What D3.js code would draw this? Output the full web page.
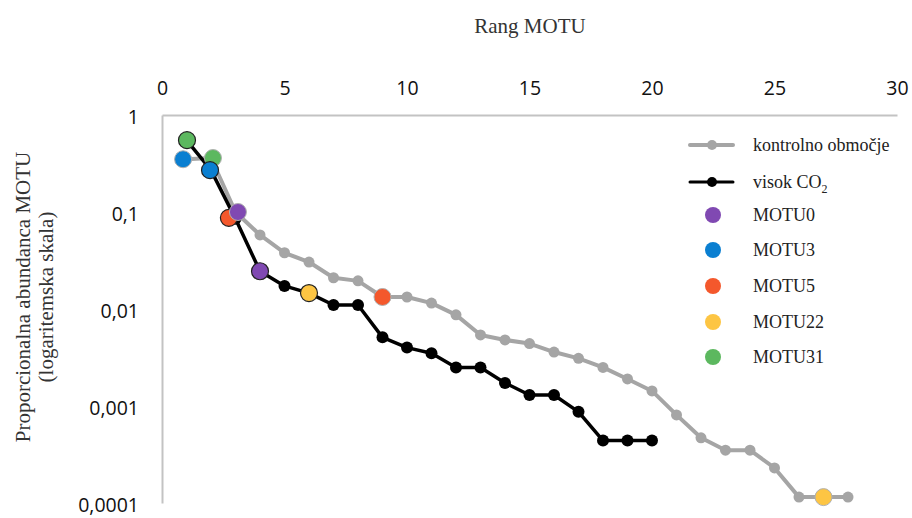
<!DOCTYPE html>
<html>
<head>
<meta charset="utf-8">
<script src="https://cdn.jsdelivr.net/npm/d3@7"></script>
<style>
  html, body { margin: 0; padding: 0; background: #fff; }
  svg { display: block; }
</style>
</head>
<body>
<svg id="chart" width="912" height="518"></svg>
<script>
// ---- DATA ----
const xTicks = [0, 5, 10, 15, 20, 25, 30];
const yTicks = [1, 0.1, 0.01, 0.001, 0.0001];
const yTickLabels = ["1", "0,1", "0,01", "0,001", "0,0001"];

const controlRank = d3.range(1, 29);
const controlValues = [0.35, 0.36, 0.10, 0.058, 0.038, 0.0305, 0.021, 0.0195, 0.0133, 0.0133,
  0.0115, 0.0087, 0.0054, 0.0048, 0.0044, 0.0036, 0.0031, 0.0025, 0.0019, 0.00143,
  0.00081, 0.00047, 0.00035, 0.00035, 0.00023, 0.000115, 0.000115, 0.000115];

const highRank = d3.range(1, 21);
const highValues = [0.55, 0.27, 0.085, 0.0245, 0.0173, 0.0146, 0.011, 0.011, 0.0051, 0.0040,
  0.0035, 0.0025, 0.0025, 0.00173, 0.00130, 0.00130, 0.00087, 0.00044, 0.00044, 0.00044];

const motuNames = ["MOTU0", "MOTU3", "MOTU5", "MOTU22", "MOTU31"];
const motuColors = ["#8049b2", "#0a7fd1", "#f4582c", "#fdc543", "#5cb85f"];
// [rank, value] in control area and in high CO2
const motuControl = [[3.1, 0.10], [0.86, 0.35], [9, 0.0133], [27, 0.000115], [2.08, 0.36]];
const motuHigh = [[4, 0.0245], [1.96, 0.27], [2.73, 0.087], [6, 0.0146], [1.02, 0.55]];

const seriesNames = ["kontrolno območje", "visok CO"];

// ---- CHART ----
const svg = d3.select("#chart");
const x = d3.scaleLinear().domain([0, 30]).range([162, 897]);
const y = d3.scaleLog().domain([1, 0.0001]).range([115, 503]);

const gray = "#a5a5a5";

// axes
const xAxis = d3.axisTop(x).tickValues(xTicks).tickSize(0).tickPadding(20).tickFormat(d3.format("d"));
const gx = svg.append("g").attr("transform", `translate(0,${y(1)})`).call(xAxis);
const yAxis = d3.axisLeft(y).tickValues(yTicks).tickSize(0).tickPadding(23)
  .tickFormat((d, i) => yTickLabels[i]);
const gy = svg.append("g").attr("transform", `translate(${x(0)},0)`).call(yAxis);

[gx, gy].forEach(g => {
  g.select(".domain").attr("stroke", "#c3c3c3").attr("stroke-width", 2);
  g.selectAll("text").attr("font-family", "'Open Sans', sans-serif").attr("font-size", 19.5).attr("fill", "#111");
});
gy.selectAll("text").attr("dy", "0.44em");

// axis titles
svg.append("text").attr("x", 530).attr("y", 33).attr("text-anchor", "middle")
  .attr("font-family", "'Liberation Serif', serif").attr("font-size", 21).attr("fill", "#333")
  .text("Rang MOTU");
const yt = svg.append("text").attr("transform", "translate(30,297) rotate(-90)")
  .attr("text-anchor", "middle").attr("font-family", "'Liberation Serif', serif")
  .attr("font-size", 21).attr("fill", "#333");
yt.append("tspan").attr("x", 0).attr("dy", 0).text("Proporcionalna abundanca MOTU");
yt.append("tspan").attr("x", 0).attr("dy", 23).text("(logaritemska skala)");

const line = d3.line().x(d => x(d[0])).y(d => y(d[1]));
const controlData = controlRank.map((r, i) => [r, controlValues[i]]);
const highData = highRank.map((r, i) => [r, highValues[i]]);

// control series
svg.append("path").datum(controlData).attr("d", line).attr("fill", "none")
  .attr("stroke", gray).attr("stroke-width", 4).attr("stroke-linejoin", "round");
svg.append("g").selectAll("circle").data(controlData).join("circle")
  .attr("cx", d => x(d[0])).attr("cy", d => y(d[1])).attr("r", 5.5).attr("fill", gray);

// high CO2 series
svg.append("path").datum(highData).attr("d", line).attr("fill", "none")
  .attr("stroke", "#000").attr("stroke-width", 3.5).attr("stroke-linejoin", "round");
svg.append("g").selectAll("circle").data(highData).join("circle")
  .attr("cx", d => x(d[0])).attr("cy", d => y(d[1])).attr("r", 6).attr("fill", "#000");

// MOTU markers (drawn in reverse legend order)
const motuG = svg.append("g");
for (let i = motuNames.length - 1; i >= 0; i--) {
  motuG.append("circle").attr("cx", x(motuHigh[i][0])).attr("cy", y(motuHigh[i][1])).attr("r", 8.5)
    .attr("fill", motuColors[i]).attr("stroke", "#222").attr("stroke-width", 1.2);
  motuG.append("circle").attr("cx", x(motuControl[i][0])).attr("cy", y(motuControl[i][1])).attr("r", 8.5)
    .attr("fill", motuColors[i]).attr("stroke", "#b0b0b0").attr("stroke-width", 1);
}

// legend
const lg = svg.append("g").attr("font-family", "'Liberation Serif', serif").attr("font-size", 18).attr("fill", "#222");
const rowsY = [145, 182, 215, 250, 286, 322, 357];
// series rows
[[gray, 4], ["#000", 3]].forEach((s, i) => {
  lg.append("line").attr("x1", 690).attr("x2", 733).attr("y1", rowsY[i]).attr("y2", rowsY[i])
    .attr("stroke", s[0]).attr("stroke-width", s[1]).attr("stroke-linecap", "round");
  lg.append("circle").attr("cx", 712).attr("cy", rowsY[i]).attr("r", 5).attr("fill", s[0]);
});
lg.append("text").attr("x", 753).attr("y", rowsY[0]).attr("dy", "0.32em").text(seriesNames[0]);
const co2 = lg.append("text").attr("x", 753).attr("y", rowsY[1]).attr("dy", "0.32em").text(seriesNames[1]);
co2.append("tspan").attr("font-size", 12).attr("dy", 5).text("2");
motuNames.forEach((n, i) => {
  lg.append("circle").attr("cx", 713).attr("cy", rowsY[i + 2]).attr("r", 8).attr("fill", motuColors[i]);
  lg.append("text").attr("x", 753).attr("y", rowsY[i + 2]).attr("dy", "0.32em").text(n);
});
</script>
</body>
</html>
